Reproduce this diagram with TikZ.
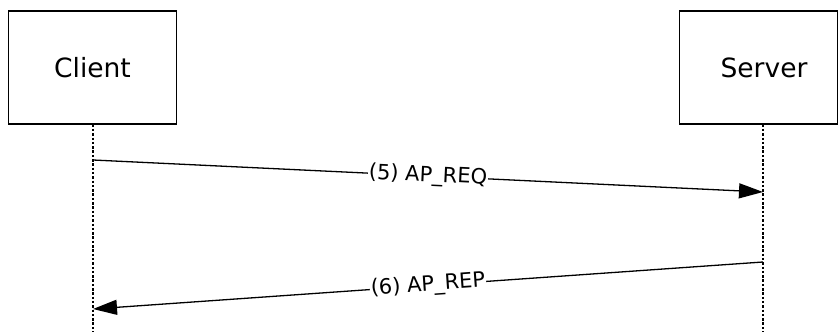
\documentclass[tikz,border=0pt]{standalone}
\usepackage{fontspec}
\setmainfont{DejaVu Sans}
\usetikzlibrary{arrows.meta}
\begin{document}
\begin{tikzpicture}[x=1pt,y=-1pt,
  actor/.style={draw,line width=1.3pt,minimum height=113pt,inner sep=0pt,font=\fontsize{26.5}{30}\selectfont},
  lifeline/.style={line width=1.2pt,dash pattern=on 2.5pt off 1.8pt},
  msg/.style={line width=1.3pt,-{Triangle[length=24pt,width=15pt]}},
  lbl/.style={fill=white,inner sep=1pt,font=\fontsize{21}{24}\selectfont,sloped}]
\useasboundingbox (0,0) rectangle (839,332);
\node[actor,minimum width=168pt] (client) at (92.5,67.5) {Client};
\node[actor,minimum width=158pt] (server) at (758.5,67.5) {\hspace*{11pt}Server};
\coordinate (cb) at (93,332);
\coordinate (sb) at (763,332);
\coordinate (c1) at (93,160);
\coordinate (s1) at (763,192);
\coordinate (s2) at (763,262);
\coordinate (c2) at (93,309);
\draw[lifeline] (client.south) ++(0.5,0) -- (cb);
\draw[lifeline] (server.south) ++(4.5,0) -- (sb);
\draw[msg] (c1) -- node[lbl,pos=0.5] {(5) AP\_REQ} (s1);
\draw[msg] (s2) -- node[lbl,pos=0.5] {(6) AP\_REP} (c2);
\end{tikzpicture}
\end{document}
